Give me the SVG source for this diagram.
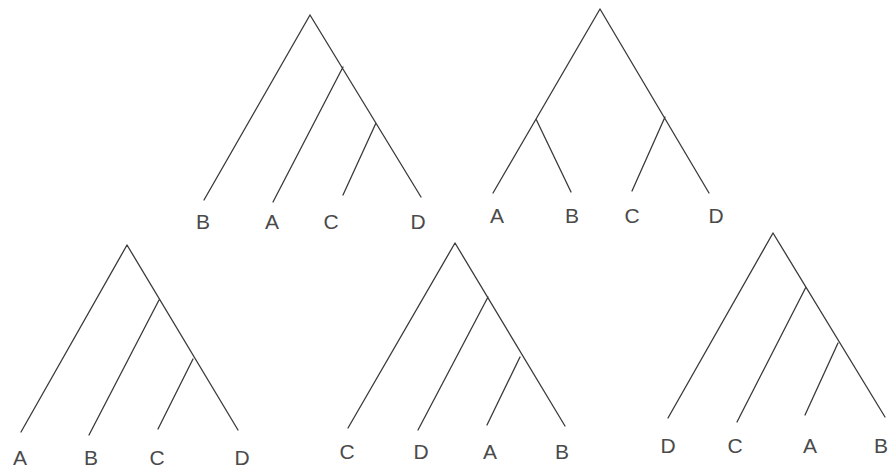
<svg xmlns="http://www.w3.org/2000/svg" width="889" height="470" viewBox="0 0 889 470">
<style>
.e{stroke:#3a3a3a;stroke-width:1.3;fill:none;stroke-linecap:round}
.l{font-family:"Liberation Sans",Arial,sans-serif;font-size:21px;fill:#4a4a4a;text-anchor:middle}
</style>
<rect width="889" height="470" fill="#ffffff"/>
<g id="connectors">
<!-- tree 1 -->
<path class="e" d="M310,15 L204,200 M310,15 L421,197 M343,67 L273,202 M376,123 L343,195"/>
<!-- tree 2 -->
<path class="e" d="M600,9 L493,193 M600,9 L709,193 M536,119 L571,192 M665,117 L632,191"/>
<!-- tree 3 -->
<path class="e" d="M127,245 L21,432 M127,245 L238,430 M159,300 L89,435 M193,359 L158,429"/>
<!-- tree 4 -->
<path class="e" d="M455,243 L348,428 M455,243 L565,426 M488,297 L418,430 M520,357 L487,425"/>
<!-- tree 5 -->
<path class="e" d="M773,233 L668,418 M773,233 L885,417 M806,287 L737,422 M838,343 L805,415"/>
</g>
<g id="t1B"><text class="l" x="203" y="229">B</text></g>
<g id="t1A"><text class="l" x="272" y="229">A</text></g>
<g id="t1C"><text class="l" x="331" y="229">C</text></g>
<g id="t1D"><text class="l" x="418" y="229">D</text></g>
<g id="t2A"><text class="l" x="497" y="223">A</text></g>
<g id="t2B"><text class="l" x="572" y="223">B</text></g>
<g id="t2C"><text class="l" x="632" y="223">C</text></g>
<g id="t2D"><text class="l" x="716" y="223">D</text></g>
<g id="t3A"><text class="l" x="20" y="465">A</text></g>
<g id="t3B"><text class="l" x="91" y="465">B</text></g>
<g id="t3C"><text class="l" x="157" y="465">C</text></g>
<g id="t3D"><text class="l" x="242" y="465">D</text></g>
<g id="t4C"><text class="l" x="347" y="459">C</text></g>
<g id="t4D"><text class="l" x="421" y="459">D</text></g>
<g id="t4A"><text class="l" x="490" y="459">A</text></g>
<g id="t4B"><text class="l" x="562" y="459">B</text></g>
<g id="t5D"><text class="l" x="668" y="453">D</text></g>
<g id="t5C"><text class="l" x="735" y="453">C</text></g>
<g id="t5A"><text class="l" x="810" y="453">A</text></g>
<g id="t5B"><text class="l" x="881" y="453">B</text></g>
</svg>
